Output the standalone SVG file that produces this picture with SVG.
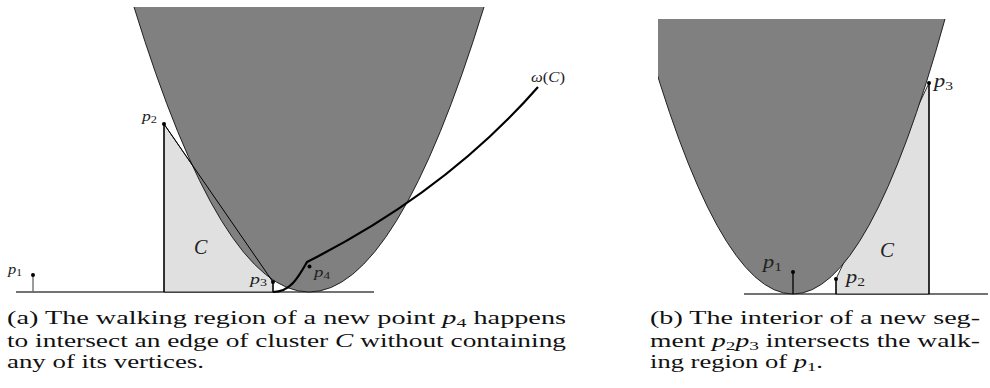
<svg xmlns="http://www.w3.org/2000/svg" width="990" height="388" viewBox="0 0 990 388">
<style>
.dark{fill:#808080;stroke:none}
.light{fill:#e0e0e0;stroke:#000;stroke-width:0.8}
.para{fill:none;stroke:#111;stroke-width:0.9}
.base{stroke:#444;stroke-width:1.3;fill:none}
.stem{stroke:#000;stroke-width:1.3;fill:none}
.pt{fill:#000}
.lab{font-family:'Liberation Serif','DejaVu Serif',serif;font-style:italic;fill:#222}
.sub{font-style:normal}
.cap{font-family:'Liberation Serif','DejaVu Serif',serif;font-size:18.5px;fill:#111}
.it{font-style:italic}
.walk{fill:none;stroke:#000;stroke-width:2.2;stroke-linejoin:miter}
</style>
<defs>
<clipPath id="clipA"><rect x="0" y="7" width="600" height="300"/></clipPath>
<clipPath id="clipB"><rect x="658" y="19" width="332" height="290"/></clipPath>
</defs>

<g id="panel-a">
  <line class="base" x1="16" y1="292" x2="374" y2="292"/>
  <polygon id="clusterA" class="light" points="164,124 273,282 273,292 164,292"/>
  <g clip-path="url(#clipA)">
    <path class="dark" d="M134,7 Q309,577 484,7 Z"/>
    <path class="para" d="M134,7 Q309,577 484,7"/>
  </g>
  <line class="stem" x1="164" y1="124" x2="273" y2="282" style="stroke-width:1"/>
  <g id="a-p1">
    <line x1="33" y1="275" x2="33" y2="292" stroke="#666" stroke-width="1.3"/>
    <circle class="pt" cx="33" cy="275" r="2"/>
    <text class="lab" x="8" y="274" font-size="15" textLength="14" lengthAdjust="spacingAndGlyphs">p<tspan class="sub" font-size="10.5" dy="2">1</tspan></text>
  </g>
  <g id="a-p2">
    <line class="stem" x1="164" y1="124" x2="164" y2="292"/>
    <circle class="pt" cx="164" cy="124" r="2"/>
    <text class="lab" x="142" y="121" font-size="15" textLength="15" lengthAdjust="spacingAndGlyphs">p<tspan class="sub" font-size="10.5" dy="2">2</tspan></text>
  </g>
  <g id="a-p3">
    <line class="stem" x1="273" y1="282" x2="273" y2="292"/>
    <circle class="pt" cx="273" cy="282" r="2"/>
    <text class="lab" x="250" y="284" font-size="15" textLength="17" lengthAdjust="spacingAndGlyphs">p<tspan class="sub" font-size="10.5" dy="2">3</tspan></text>
  </g>
  <g id="a-p4">
    <circle class="pt" cx="309.5" cy="266.5" r="2"/>
    <text class="lab" x="314" y="277" font-size="15" textLength="16" lengthAdjust="spacingAndGlyphs">p<tspan class="sub" font-size="10.5" dy="2">4</tspan></text>
  </g>
  <g id="a-walk">
    <path class="walk" d="M273,292 C290,292 298,278 307,262 Q446,192 538,87"/>
    <text class="lab" x="531" y="82" font-size="15" textLength="34" lengthAdjust="spacingAndGlyphs">ω<tspan font-style="normal">(</tspan>C<tspan font-style="normal">)</tspan></text>
  </g>
  <text class="lab" x="194" y="254" font-size="20">C</text>
</g>

<g id="panel-b">
  <line class="base" x1="744" y1="294" x2="988" y2="294"/>
  <polygon id="clusterB" class="light" points="836,294 836,279 929,83 929,294"/>
  <g clip-path="url(#clipB)">
    <path class="dark" d="M641,19 Q793,569 945,19 Z"/>
    <path class="para" d="M641,19 Q793,569 945,19"/>
  </g>
  <g id="b-p1">
    <line class="stem" x1="793" y1="272" x2="793" y2="294"/>
    <circle class="pt" cx="793" cy="272" r="2"/>
    <text class="lab" x="763" y="268" font-size="18" textLength="19" lengthAdjust="spacingAndGlyphs">p<tspan class="sub" font-size="12.5" dy="2.5">1</tspan></text>
  </g>
  <g id="b-p2">
    <line class="stem" x1="836" y1="279" x2="836" y2="294"/>
    <circle class="pt" cx="836" cy="279" r="2"/>
    <text class="lab" x="846" y="283" font-size="18" textLength="19" lengthAdjust="spacingAndGlyphs">p<tspan class="sub" font-size="12.5" dy="2.5">2</tspan></text>
  </g>
  <g id="b-p3">
    <line class="stem" x1="929" y1="83" x2="929" y2="294"/>
    <circle class="pt" cx="929" cy="83" r="2"/>
    <text class="lab" x="934" y="87" font-size="18" textLength="19" lengthAdjust="spacingAndGlyphs">p<tspan class="sub" font-size="12.5" dy="2.5">3</tspan></text>
  </g>
  <text class="lab" x="880" y="257" font-size="21">C</text>
</g>

<g id="captions">
  <text class="cap" x="7" y="324" textLength="559" lengthAdjust="spacingAndGlyphs">(a) The walking region of a new point <tspan class="it">p</tspan><tspan font-size="13" dy="3">4</tspan><tspan dy="-3"> happens</tspan></text>
  <text class="cap" x="7" y="347" textLength="559" lengthAdjust="spacingAndGlyphs">to intersect an edge of cluster <tspan class="it">C</tspan> without containing</text>
  <text class="cap" x="7" y="368" textLength="197" lengthAdjust="spacingAndGlyphs">any of its vertices.</text>
  <text class="cap" x="650" y="324" textLength="330" lengthAdjust="spacingAndGlyphs">(b) The interior of a new seg-</text>
  <text class="cap" x="650" y="347" textLength="330" lengthAdjust="spacingAndGlyphs">ment <tspan class="it">p</tspan><tspan font-size="13" dy="3">2</tspan><tspan class="it" dy="-3">p</tspan><tspan font-size="13" dy="3">3</tspan><tspan dy="-3"> intersects the walk-</tspan></text>
  <text class="cap" x="650" y="368" textLength="173" lengthAdjust="spacingAndGlyphs">ing region of <tspan class="it">p</tspan><tspan font-size="13" dy="3">1</tspan><tspan dy="-3">.</tspan></text>
</g>
</svg>
